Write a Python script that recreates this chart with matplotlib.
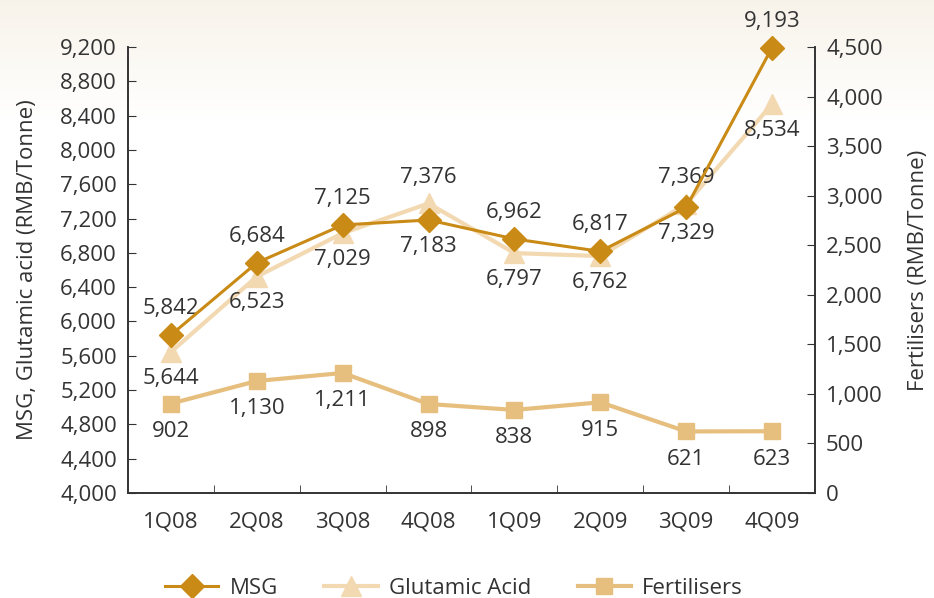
import numpy as np
import matplotlib
matplotlib.use('Agg')
import matplotlib.pyplot as plt
from matplotlib.ticker import FuncFormatter, MultipleLocator

plt.rcParams['font.family'] = ['Open Sans', 'DejaVu Sans']

# data
quarters = ['1Q08', '2Q08', '3Q08', '4Q08', '1Q09', '2Q09', '3Q09', '4Q09']
msg = [5842, 6684, 7125, 7183, 6962, 6817, 7329, 9193]
glutamic = [5644, 6523, 7029, 7376, 6797, 6762, 7369, 8534]
fertilisers = [902, 1130, 1211, 898, 838, 915, 621, 623]

# which label sits above (True) for msg at each quarter
msg_above = [True, True, True, False, True, True, False, True]

c_msg = '#c98a16'
c_glu = '#f3d9b1'
c_fer = '#e6bf7e'
txt = '#333333'
fs = 16

fig = plt.figure(figsize=(9.34, 5.98), dpi=100)

# faint cream wash at the top of the picture
bg = fig.add_axes([0, 0, 1, 1], zorder=-10)
grad = np.ones((598, 1, 3))
top = np.array([248, 243, 234]) / 255.0
for i in range(598):
    t = min(i / 120.0, 1.0)
    grad[i, 0] = top * (1 - t) + np.ones(3) * t
bg.imshow(grad, aspect='auto', extent=[0, 1, 0, 1])
bg.axis('off')

ax = fig.add_axes([0.137, 0.1756, 0.7356, 0.7458])
ax.patch.set_alpha(0)
ax2 = ax.twinx()

x = np.arange(len(quarters))

ax.plot(x, glutamic, color=c_glu, lw=3, marker='^', ms=14, mec=c_glu, zorder=3,
        label='Glutamic Acid', clip_on=False)
ax.plot(x, msg, color=c_msg, lw=2.2, marker='D', ms=12, mec=c_msg, zorder=4,
        label='MSG', clip_on=False)
ax2.plot(x, fertilisers, color=c_fer, lw=3, marker='s', ms=12, mec=c_fer, zorder=3,
         label='Fertilisers', clip_on=False)

ax.set_xlim(-0.5, 7.5)
ax.set_ylim(4000, 9200)
ax2.set_ylim(0, 4500)

fmt = FuncFormatter(lambda v, p: f'{int(v):,}')
ax.yaxis.set_major_locator(MultipleLocator(400))
ax.yaxis.set_major_formatter(fmt)
ax2.yaxis.set_major_locator(MultipleLocator(500))
ax2.yaxis.set_major_formatter(fmt)

ax.set_xticks(x)
ax.set_xticklabels(quarters)
ax.set_xticks(np.arange(0.5, 7, 1), minor=True)
ax.tick_params(axis='x', which='major', length=0, pad=13, labelsize=fs, colors=txt)
ax.tick_params(axis='x', which='minor', direction='in', length=6, color=txt)
ax.tick_params(axis='y', direction='in', length=6, labelsize=fs, colors=txt, pad=8)
ax2.tick_params(axis='y', direction='in', length=6, labelsize=fs, colors=txt, pad=8)

for a in (ax, ax2):
    a.spines['top'].set_visible(False)
    for s in ('left', 'right', 'bottom'):
        a.spines[s].set_color(txt)
        a.spines[s].set_linewidth(1.2)

ax.set_ylabel('MSG, Glutamic acid (RMB/Tonne)', fontsize=fs, color=txt, labelpad=16)
ax2.set_ylabel('Fertilisers (RMB/Tonne)', fontsize=fs, color=txt, rotation=90, labelpad=18)

# value labels
for i in x:
    up = msg_above[i]
    ax.annotate(f'{msg[i]:,}', (i, msg[i]), xytext=(0, 19 if up else -19), textcoords='offset points',
                ha='center', va='center', fontsize=fs, color=txt)
    ax.annotate(f'{glutamic[i]:,}', (i, glutamic[i]), xytext=(0, -19 if up else 19), textcoords='offset points',
                ha='center', va='center', fontsize=fs, color=txt)
    ax2.annotate(f'{fertilisers[i]:,}', (i, fertilisers[i]), xytext=(0, -20), textcoords='offset points',
                 ha='center', va='center', fontsize=fs, color=txt)

h1, l1 = ax.get_legend_handles_labels()
h2, l2 = ax2.get_legend_handles_labels()
handles = [h1[1], h1[0], h2[0]]
labels = [l1[1], l1[0], l2[0]]
fig.legend(handles, labels, loc='lower center', bbox_to_anchor=(0.486, -0.035), ncol=3, frameon=False,
           fontsize=fs, handlelength=2.4, handletextpad=0.5, columnspacing=2.1, labelcolor=txt)

fig.savefig('out.png', dpi=100)
